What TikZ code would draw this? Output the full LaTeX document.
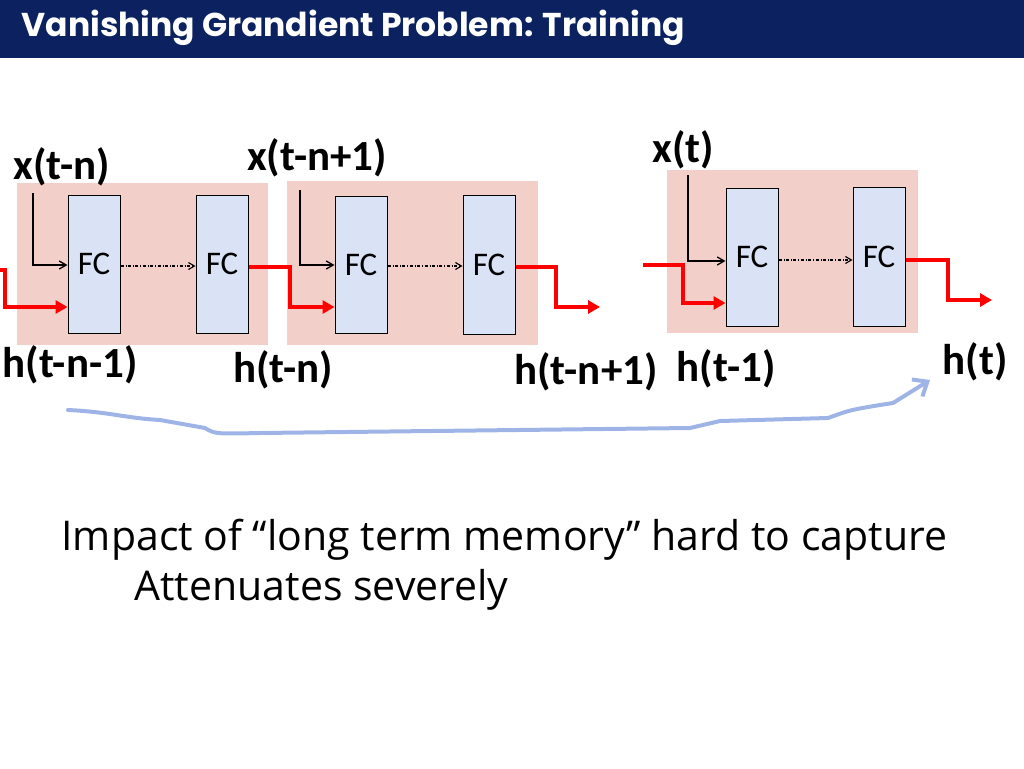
\documentclass[tikz,border=0pt]{standalone}
\usepackage{fontspec}
\setmainfont{Carlito}
\newfontfamily\titlefont{Poppins}
\newfontfamily\bodyfont{Open Sans}
\usetikzlibrary{arrows.meta}
\definecolor{navy}{HTML}{0B2160}
\definecolor{blockpink}{HTML}{F3CFC9}
\definecolor{fcblue}{HTML}{DAE3F5}
\definecolor{curveblue}{HTML}{9FB4E6}
\tikzset{
  block/.style={fill=blockpink, draw=none},
  fcbox/.style={draw=black, line width=1pt, fill=fcblue, minimum width=52pt, inner sep=0pt, font=\fontsize{33}{35}\selectfont},
  lab/.style={font=\fontsize{43}{45}\selectfont\bfseries},
  inarrow/.style={-{Straight Barb[length=7pt,width=8pt]}, line width=1.3pt},
  redarrow/.style={red, line width=4pt, -{Triangle[length=12pt,width=13pt]}},
  chain/.style={dash dot, -{Straight Barb[length=6pt,width=7pt]}, line width=1.1pt}
}
\begin{document}
\begin{tikzpicture}[x=1pt,y=-1pt]
  \useasboundingbox (0,0) rectangle (1024,768);
  % title
  \fill[navy] (0,0) rectangle (1024,58);
  \node[anchor=west, white, font=\titlefont\fontsize{33}{35}\selectfont\bfseries] (title) at (18,28) {Vanishing Grandient Problem: Training};
  % blocks
  \fill[block] (17,183) rectangle (268,345);
  \fill[block] (287,181) rectangle (538,345);
  \fill[block] (667,170) rectangle (918,333);
  % FC cells
  \node[fcbox, minimum height=138pt] (fa) at (94,264) {FC};
  \node[fcbox, minimum height=138pt] (fb) at (222,264) {FC};
  \node[fcbox, minimum height=137pt] (fc) at (361,265) {FC};
  \node[fcbox, minimum height=139pt] (fd) at (489,265) {FC};
  \node[fcbox, minimum height=138pt] (fe) at (752,257) {FC};
  \node[fcbox, minimum height=139pt] (ff) at (879,257) {FC};
  \draw[chain] (fa.east |- 0,266) -- (fb.west |- 0,266);
  \draw[chain] (fc.east |- 0,266) -- (fd.west |- 0,266);
  \draw[chain] (fe.east |- 0,260) -- (ff.west |- 0,260);
  % inputs
  \node[lab] (xa) at (62,167) {x(t-n)};
  \node[lab] (xb) at (317,158) {x(t-n+1)};
  \node[lab] (xc) at (683,150) {x(t)};
  \draw[inarrow] (33,193) -- (33,265) -- (fa.west |- 0,265);
  \draw[inarrow] (300,190) -- (300,265) -- (fc.west |- 0,265);
  \draw[inarrow] (688,175) -- (688,261) -- (fe.west |- 0,261);
  % hidden states
  \draw[redarrow] (0,270) -- (5,270) -- (5,307) -- (fa.west |- 0,307);
  \draw[redarrow] (fb.east |- 0,267) -- (290,267) -- (290,307) -- (fc.west |- 0,307);
  \coordinate (ha) at (600,307);
  \draw[redarrow] (fd.east |- 0,267) -- (556,267) -- (556,307) -- (ha);
  \draw[redarrow] (643,265) -- (683,265) -- (683,303) -- (fe.west |- 0,303);
  \coordinate (hb) at (992,300);
  \draw[redarrow] (ff.east |- 0,260) -- (948,260) -- (948,300) -- (hb);
  \node[lab] (h1) at (70,365) {h(t-n-1)};
  \node[lab] (h2) at (283,370) {h(t-n)};
  \node[lab] (h3) at (586,372) {h(t-n+1)};
  \node[lab] (h4) at (726,369) {h(t-1)};
  \node[lab] (h5) at (975,362) {h(t)};
  % long term path
  \draw[curveblue, line width=4pt, line cap=round, -{Straight Barb[length=12pt,width=20pt]}]
    (68,410) .. controls (110,412) and (125,418) .. (160,420)
    -- (205,428) .. controls (215,434) .. (260,433)
    -- (690,428) .. controls (705,424) .. (720,421)
    -- (828,418) .. controls (850,410) .. (880,405)
    -- (893,403) -- (930,380);
  % text
  \node[anchor=west, font=\bodyfont\fontsize{41}{43}\selectfont] (t1) at (58,540) {Impact of “long term memory” hard to capture};
  \node[anchor=west, font=\bodyfont\fontsize{41}{43}\selectfont] (t2) at (131,590) {Attenuates severely};
\end{tikzpicture}
\end{document}
